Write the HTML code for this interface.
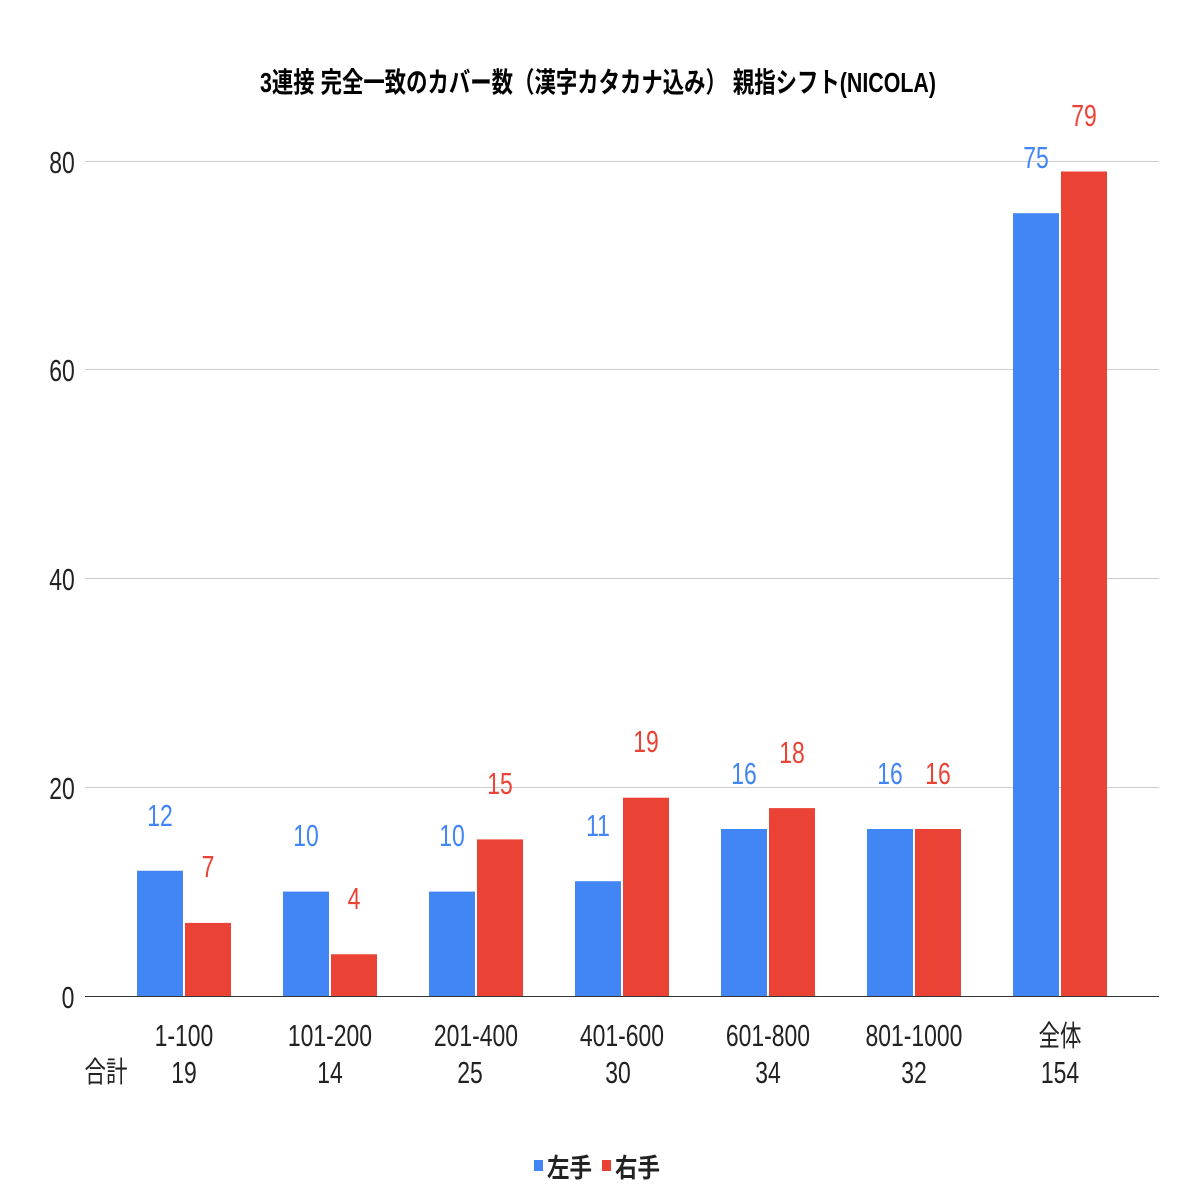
<!DOCTYPE html>
<html><head><meta charset="utf-8"><style>
html,body{margin:0;padding:0;background:#fff}
svg{display:block}
text{font-family:"Liberation Sans","Noto Sans CJK JP",sans-serif}
.n{transform-box:fill-box;transform-origin:center;transform:scaleX(0.74)}
</style></head><body>
<svg width="1196" height="1196" viewBox="0 0 1196 1196" xmlns="http://www.w3.org/2000/svg">
<rect width="1196" height="1196" fill="#fff"/>
<text x="598" y="92" text-anchor="middle" font-size="28" font-weight="bold" fill="#000" textLength="676" lengthAdjust="spacingAndGlyphs">3連接 完全一致のカバー数（漢字カタカナ込み） 親指シフト(NICOLA)</text>
<g stroke="#ccc" stroke-width="1">
<line x1="85" y1="161.5" x2="1159" y2="161.5"/>
<line x1="85" y1="369.5" x2="1159" y2="369.5"/>
<line x1="85" y1="578.5" x2="1159" y2="578.5"/>
<line x1="85" y1="787.5" x2="1159" y2="787.5"/>
</g>
<g font-size="31" fill="#222" text-anchor="middle">
<text class="n" x="62" y="173">80</text>
<text class="n" x="62" y="381">60</text>
<text class="n" x="62" y="590">40</text>
<text class="n" x="62" y="799">20</text>
<text class="n" x="68" y="1008">0</text>
</g>
<g fill="#4285f4">
<rect x="137" y="870.75" width="46" height="125.25"/>
<rect x="283" y="891.6" width="46" height="104.4"/>
<rect x="429" y="891.6" width="46" height="104.4"/>
<rect x="575" y="881.2" width="46" height="114.8"/>
<rect x="721" y="829" width="46" height="167"/>
<rect x="867" y="829" width="46" height="167"/>
<rect x="1013" y="213.2" width="46" height="782.8"/>
</g>
<g fill="#ea4335">
<rect x="185" y="922.9" width="46" height="73.1"/>
<rect x="331" y="954.25" width="46" height="41.75"/>
<rect x="477" y="839.4" width="46" height="156.6"/>
<rect x="623" y="797.7" width="46" height="198.3"/>
<rect x="769" y="808.1" width="46" height="187.9"/>
<rect x="915" y="829" width="46" height="167"/>
<rect x="1061" y="171.5" width="46" height="824.5"/>
</g>
<line x1="85" y1="996.5" x2="1159" y2="996.5" stroke="#333" stroke-width="1"/>
<g font-size="31" fill="#4285f4" text-anchor="middle">
<text class="n" x="160" y="826">12</text>
<text class="n" x="306" y="846">10</text>
<text class="n" x="452" y="846">10</text>
<text class="n" x="598" y="836">11</text>
<text class="n" x="744" y="784">16</text>
<text class="n" x="890" y="784">16</text>
<text class="n" x="1036" y="168">75</text>
</g>
<g font-size="31" fill="#ea4335" text-anchor="middle">
<text class="n" x="208" y="877">7</text>
<text class="n" x="354" y="909">4</text>
<text class="n" x="500" y="794">15</text>
<text class="n" x="646" y="752">19</text>
<text class="n" x="792" y="763">18</text>
<text class="n" x="938" y="784">16</text>
<text class="n" x="1084" y="126">79</text>
</g>
<g font-size="31" fill="#222" text-anchor="middle">
<text class="n" x="184" y="1046">1-100</text><text class="n" x="184" y="1083">19</text>
<text class="n" x="330" y="1046">101-200</text><text class="n" x="330" y="1083">14</text>
<text class="n" x="476" y="1046">201-400</text><text class="n" x="470" y="1083">25</text>
<text class="n" x="622" y="1046">401-600</text><text class="n" x="618" y="1083">30</text>
<text class="n" x="768" y="1046">601-800</text><text class="n" x="768" y="1083">34</text>
<text class="n" x="914" y="1046">801-1000</text><text class="n" x="914" y="1083">32</text>
<text class="n" x="1060" y="1046" font-size="29">全体</text><text class="n" x="1060" y="1083">154</text>
</g>
<text class="n" x="106" y="1082" text-anchor="middle" font-size="29" fill="#222">合計</text>
<rect x="534" y="1160" width="9" height="11" fill="#4285f4"/>
<text x="547" y="1177" font-size="26" font-weight="bold" fill="#222" textLength="45" lengthAdjust="spacingAndGlyphs">左手</text>
<rect x="602" y="1160" width="9" height="11" fill="#ea4335"/>
<text x="615" y="1177" font-size="26" font-weight="bold" fill="#222" textLength="45" lengthAdjust="spacingAndGlyphs">右手</text>
</svg>
</body></html>
